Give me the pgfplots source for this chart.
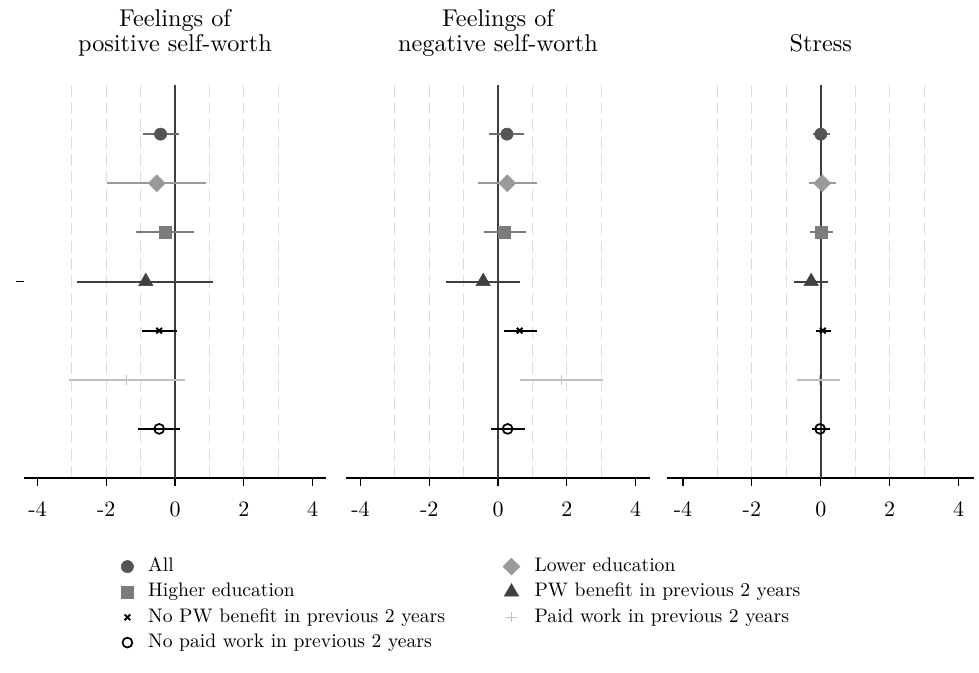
\documentclass[border=0pt]{standalone}
\usepackage{fontspec}
\setmainfont{lmroman10-regular}[Extension=.otf]
\usepackage{pgfplots}
\usepackage{pgfplotstable}
\pgfplotsset{compat=1.18}
\definecolor{cAll}{HTML}{555555}
\definecolor{cLow}{HTML}{9A9A9A}
\definecolor{cHigh}{HTML}{7C7C7C}
\definecolor{cPW}{HTML}{404040}
\definecolor{cPaid}{HTML}{C0C0C0}
\definecolor{cGrid}{HTML}{DCDCDC}
\definecolor{cZero}{HTML}{3C3C3C}

% y = row position (7 = top), x = estimate, lo/hi = confidence interval
\pgfplotstableread{
y x lo hi
7 -0.42 -0.94 0.13
6 -0.53 -1.97 0.90
5 -0.28 -1.12 0.56
4 -0.85 -2.84 1.11
3 -0.46 -0.96 0.05
2 -1.40 -3.09 0.30
1 -0.46 -1.07 0.15
}\tabPos
\pgfplotstableread{
y x lo hi
7 0.26 -0.25 0.77
6 0.27 -0.57 1.12
5 0.18 -0.40 0.80
4 -0.43 -1.51 0.65
3 0.63 0.17 1.12
2 1.85 0.65 3.04
1 0.28 -0.21 0.79
}\tabNeg
\pgfplotstableread{
y x lo hi
7 0.00 -0.24 0.26
6 0.04 -0.34 0.43
5 0.00 -0.32 0.34
4 -0.28 -0.78 0.22
3 0.06 -0.14 0.29
2 -0.04 -0.69 0.57
1 -0.02 -0.27 0.26
}\tabStress

\pgfplotsset{
  forest/.style={
    scale only axis, height=294.75pt, ymin=0, ymax=8, clip=false,
    axis x line*=bottom,
    x axis line style={line width=0.9pt, black, -},
    xtick={-4,-2,0,2,4}, xticklabels={-4,-2,0,2,4},
    tick align=outside, major tick length=6pt,
    every tick/.style={black, line width=0.9pt},
    tick label style={font=\fontsize{16.5}{18}\selectfont},
    xticklabel style={yshift=-8.5pt},
    minor xtick={-3,-2,-1,1,2,3}, minor tick length=0pt,
    xminorgrids=true,
    minor grid style={cGrid, line width=0.9pt, dash pattern=on 9pt off 4pt},
    extra x ticks={0}, extra x tick labels={},
    extra x tick style={grid=major, major grid style={cZero, line width=1.3pt}, major tick length=0pt},
    title style={at={(0.5,1)}, anchor=base, yshift=19.5pt, font=\fontsize{18.2}{17.3}\selectfont},
  },
  ebar/.style={error bars/x dir=both, error bars/x explicit, error bars/error mark=none,
    error bars/error bar style={line width=1.5pt, #1}},
  sAll/.style={only marks, mark=*, mark size=4.6pt, mark options={fill=cAll, draw=cAll}, ebar=cAll!85},
  sLow/.style={only marks, mark=square*, mark size=4.5pt, mark options={rotate=45, fill=cLow, draw=cLow}, ebar=cLow},
  sHigh/.style={only marks, mark=square*, mark size=4.5pt, mark options={fill=cHigh, draw=cHigh}, ebar=cHigh},
  sPW/.style={only marks, mark=triangle*, mark size=6.2pt, mark options={fill=cPW, draw=cPW}, ebar=cPW},
  sNoPW/.style={only marks, mark=x, mark size=3pt, mark options={draw=black, line width=1.4pt}, ebar=black},
  sPaid/.style={only marks, mark=+, mark size=3.8pt, mark options={draw=cPaid, line width=0.9pt}, ebar=cPaid},
  sNoPaid/.style={only marks, mark=o, mark size=3.7pt, mark options={draw=black, fill=white, line width=1.3pt}, ebar=black},
  pick/.style={restrict expr to domain={\coordindex}{#1:#1}},
  /pgfplots/table/ci/.style={x=x, y=y, x error plus expr=\thisrow{hi}-\thisrow{x}, x error minus expr=\thisrow{x}-\thisrow{lo}},
}

\newcommand{\panelplots}[1]{%
  \addplot[sAll, pick=0] table[ci] {#1};
  \addplot[sLow, pick=1] table[ci] {#1};
  \addplot[sHigh, pick=2] table[ci] {#1};
  \addplot[sPW, pick=3] table[ci] {#1};
  \addplot[sNoPW, pick=4] table[ci] {#1};
  \addplot[sPaid, pick=5] table[ci] {#1};
  \addplot[sNoPaid, pick=6] table[ci] {#1};
}

\begin{document}
\begin{tikzpicture}
\path[use as bounding box] (0,0) rectangle (734.25pt,-504pt);

\begin{axis}[forest, at={(18pt,-358.5pt)}, anchor=south west,
  width=226.5pt, xmin=-4.39, xmax=4.39,
  axis y line*=left, y axis line style={draw=none},
  ytick={4}, yticklabels={},
  title={\begin{tabular}[b]{@{}c@{}}Feelings of\\positive self-worth\end{tabular}},
  legend columns=2,
  legend style={draw=none, fill=none, at={(0.308,-0.19)}, anchor=north west,
    font=\fontsize{14.7}{17}\selectfont, legend cell align=left,
    nodes={inner sep=1.5pt, text height=10.5pt, text depth=3pt},
    row sep=2.5pt,
    /tikz/every odd column/.append style={column sep=9.5pt},
    /tikz/every even column/.append style={column sep=42pt}},
]
\panelplots{\tabPos}
\addlegendentry{All}
\addlegendentry{Lower education}
\addlegendentry{Higher education}
\addlegendentry{PW benefit in previous 2 years}
\addlegendentry{No PW benefit in previous 2 years}
\addlegendentry{Paid work in previous 2 years}
\addlegendentry{No paid work in previous 2 years}
\end{axis}

\begin{axis}[forest, at={(259.5pt,-358.5pt)}, anchor=south west,
  width=228pt, xmin=-4.42, xmax=4.42, axis y line=none,
  title={\begin{tabular}[b]{@{}c@{}}Feelings of\\negative self-worth\end{tabular}},
]
\panelplots{\tabNeg}
\end{axis}

\begin{axis}[forest, at={(500.6pt,-358.5pt)}, anchor=south west,
  width=230pt, xmin=-4.45, xmax=4.45, axis y line=none,
  title={Stress},
]
\panelplots{\tabStress}
\end{axis}
\end{tikzpicture}
\end{document}
